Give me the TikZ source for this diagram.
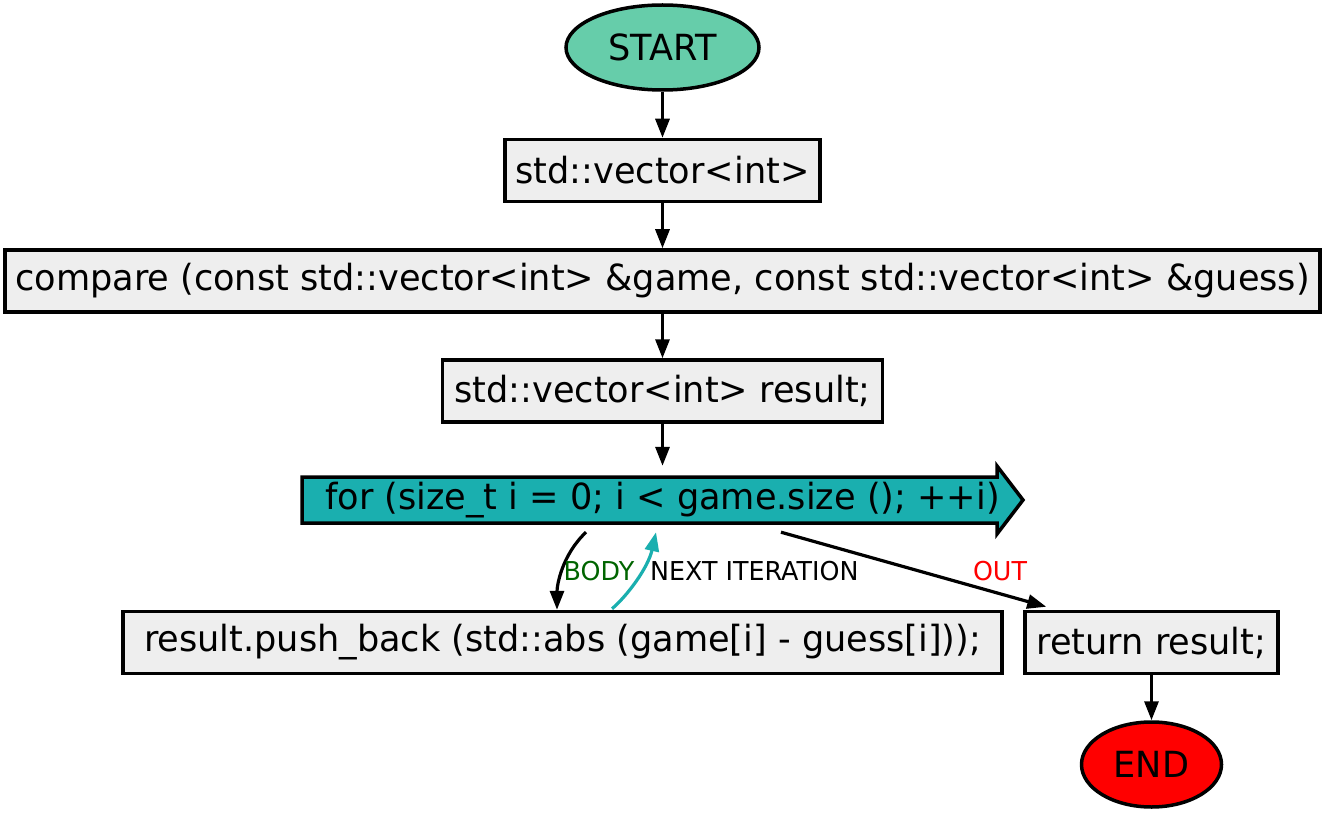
\documentclass[tikz,border=0pt]{standalone}
\usepackage{fontspec}
\setmainfont{DejaVu Sans}[FakeStretch=0.975]
\usepackage{xcolor}
\usetikzlibrary{arrows.meta,shapes,calc}

\definecolor{startgreen}{HTML}{66CDAA}
\definecolor{boxgray}{HTML}{EEEEEE}
\definecolor{loopteal}{HTML}{1AAFAF}
\definecolor{bodygreen}{HTML}{006400}

\tikzset{
  every node/.style={font=\fontsize{36pt}{42pt}\selectfont, inner sep=0pt},
  term/.style={ellipse, draw, line width=3.5pt},
  stmt/.style={rectangle, draw, line width=3.5pt, fill=boxgray, minimum height=62pt},
  flow/.style={line width=3.2pt, -{Triangle[length=19pt,width=14pt]}},
  lbl/.style={font=\fontsize{26pt}{30pt}\selectfont}
}

\begin{document}
\begin{tikzpicture}[x=1pt, y=-1pt]
        \useasboundingbox (0,0) rectangle (1325,813);
        % nodes
        \node[term, fill=startgreen, minimum width=193pt, minimum height=85pt] (start) at (662.5,47.5) {START};
        \node[stmt, minimum width=315pt] (vec) at (662.5,170.5) {std::vector<int>};
        \node[stmt, minimum width=1315pt] (cmp) at (662.5,281) {compare (const std::vector<int> \&game, const std::vector<int> \&guess)};
        \node[stmt, minimum width=440pt] (res) at (662.5,391) {std::vector<int> result;};
        \filldraw[fill=loopteal, line width=3.5pt] (302,477) -- (997,477) -- (997,466) -- (1023,500)
            -- (997,534) -- (997,523) -- (302,523) -- cycle;
        \node[minimum height=68pt] (loop) at (662.5,500) {for (size\_t i = 0; i < game.size (); ++i)};
        \node[stmt, minimum width=879pt] (push) at (562.5,642.5) {result.push\_back (std::abs (game[i] - guess[i]));};
        \node[stmt, minimum width=253pt] (ret) at (1151.5,642.5) {return result;};
        \node[term, fill=red, minimum width=140pt, minimum height=85pt] (end) at (1151.5,764.5) {END};
        % edges
        \draw[flow] (start) -- (vec);
        \draw[flow] (vec) -- (cmp);
        \draw[flow] (cmp) -- (res);
        \draw[flow] (res) -- (loop.north);
        \draw[flow] ($(loop.south)+(-76.5,-2)$) .. controls (562,555) and (557,585) .. ($(push.north)+(-5.5,0)$);
        \draw[flow, loopteal] ($(push.north)+(49.5,-1)$) .. controls (627,596) and (648,568) .. ($(loop.south)+(-6.5,-2)$);
        \draw[flow] ($(loop.south)+(118.5,-2)$) -- ($(ret.north west)+(23,-3)$);
        \draw[flow] (ret) -- (end);
        % labels
        \node[lbl, text=bodygreen] (lbody) at (599,571) {BODY};
        \node[lbl, anchor=west] (lnext) at (650,571) {NEXT ITERATION};
        \node[lbl, text=red] (lout) at (1000,571) {OUT};
    \end{tikzpicture}
\end{document}
